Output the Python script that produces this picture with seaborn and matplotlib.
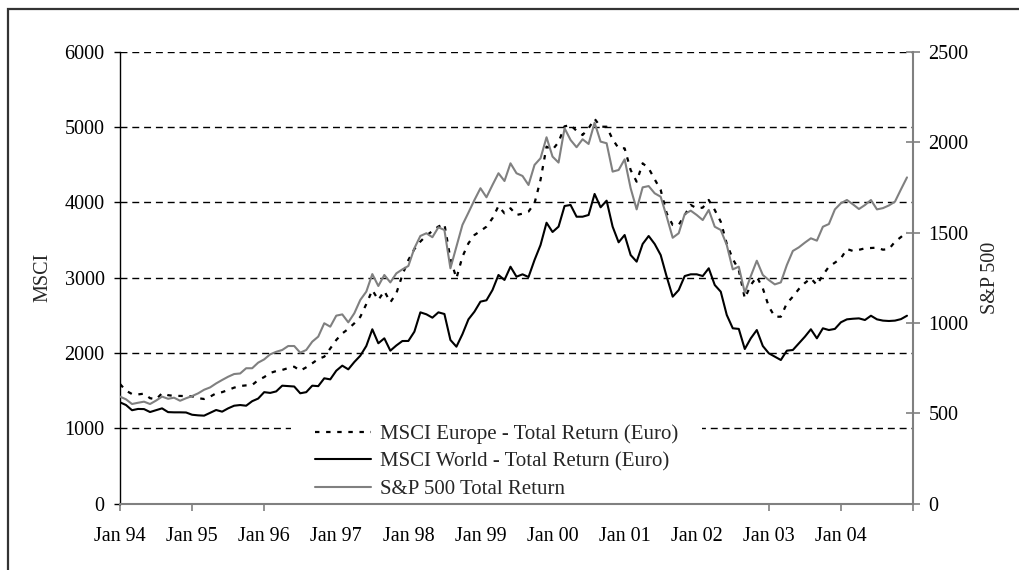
import numpy as np
import matplotlib
matplotlib.use("Agg")
import matplotlib.pyplot as plt
import seaborn as sns
from matplotlib.patches import Rectangle

# monthly index, Jan 94 .. Dec 04
months = np.arange(132)

msci_europe = [
    1588, 1500, 1455, 1450, 1460, 1400, 1385, 1465, 1440, 1430, 1430, 1428,
    1425, 1400, 1389, 1420, 1465, 1480, 1509, 1540, 1562, 1570, 1575, 1640,
    1680, 1735, 1760, 1775, 1800, 1818, 1765, 1810, 1863, 1920, 1951, 2060,
    2173, 2260, 2320, 2394, 2480, 2650, 2836, 2704, 2823, 2673, 2793, 3036,
    3235, 3380, 3480, 3560, 3620, 3680, 3713, 3250, 2992, 3279, 3457, 3567,
    3620, 3678, 3789, 3952, 3855, 3922, 3833, 3850, 3878, 3988, 4300, 4740,
    4700, 4800, 5010, 5028, 4950, 4895, 4984, 5110, 5005, 5005, 4838, 4718,
    4718, 4430, 4275, 4519, 4453, 4307, 4165, 3855, 3700, 3700, 3833, 3966,
    3922, 3930, 4032, 3899, 3744, 3450, 3250, 3102, 2726, 2903, 3013, 2859,
    2615, 2482, 2482, 2660, 2748, 2850, 2930, 2992, 2903, 3036, 3146, 3200,
    3257, 3381, 3355, 3370, 3390, 3395, 3399, 3372, 3380, 3478, 3540, 3611,
]

msci_world = [
    1345, 1309, 1240, 1257, 1255, 1216, 1240, 1265, 1215, 1212, 1212, 1210,
    1180, 1172, 1168, 1205, 1243, 1221, 1265, 1300, 1309, 1300, 1360, 1395,
    1480, 1470, 1490, 1566, 1560, 1555, 1465, 1480, 1566, 1560, 1664, 1650,
    1765, 1832, 1783, 1880, 1964, 2093, 2315, 2129, 2195, 2031, 2100, 2159,
    2160, 2283, 2540, 2514, 2469, 2540, 2518, 2173, 2084, 2250, 2447, 2549,
    2682, 2700, 2836, 3036, 2970, 3146, 3013, 3045, 3009, 3235, 3434, 3730,
    3607, 3678, 3952, 3966, 3810, 3810, 3833, 4112, 3935, 4023, 3678, 3470,
    3567, 3301, 3213, 3448, 3554, 3448, 3301, 3013, 2748, 2836, 3022, 3045,
    3045, 3022, 3125, 2903, 2814, 2505, 2328, 2320, 2053, 2195, 2305, 2093,
    1996, 1951, 1907, 2031, 2040, 2129, 2216, 2315, 2195, 2328, 2305, 2320,
    2408, 2447, 2455, 2460, 2438, 2495, 2447, 2430, 2425, 2430, 2450, 2495,
]

sp500 = [
    592, 577, 551, 558, 564, 551, 570, 592, 580, 586, 569, 583,
    595, 610, 630, 643, 665, 684, 702, 717, 720, 749, 749, 780,
    798, 826, 840, 850, 872, 872, 835, 850, 896, 924, 998, 979,
    1040, 1047, 1003, 1053, 1127, 1173, 1270, 1204, 1265, 1224, 1274, 1296,
    1315, 1413, 1481, 1496, 1474, 1529, 1514, 1302, 1422, 1542, 1610, 1680,
    1745, 1695, 1763, 1828, 1785, 1883, 1828, 1813, 1763, 1874, 1911, 2027,
    1920, 1887, 2077, 2012, 1972, 2016, 1990, 2108, 2003, 1994, 1837, 1846,
    1905, 1745, 1628, 1750, 1757, 1717, 1698, 1588, 1471, 1496, 1602, 1621,
    1597, 1569, 1625, 1532, 1514, 1431, 1296, 1311, 1167, 1259, 1344, 1265,
    1237, 1213, 1224, 1320, 1398, 1418, 1444, 1468, 1455, 1532, 1547, 1628,
    1662, 1680, 1656, 1630, 1652, 1680, 1628, 1635, 1650, 1671, 1739, 1805,
]

year_labels = ["Jan 94", "Jan 95", "Jan 96", "Jan 97", "Jan 98", "Jan 99",
               "Jan 00", "Jan 01", "Jan 02", "Jan 03", "Jan 04", ""]
series_names = ["MSCI Europe - Total Return (Euro)",
                "MSCI World - Total Return (Euro)",
                "S&P 500 Total Return"]

sns.set_theme(style="white")
plt.rcParams["font.family"] = ["Liberation Serif", "DejaVu Serif"]
fs = 14.5

fig = plt.figure(figsize=(10.2, 5.7), dpi=100)
ax = fig.add_axes([120 / 1020, 1 - 503.6 / 570, 793 / 1020, 451.8 / 570])
ax2 = ax.twinx()

sns.lineplot(x=months, y=msci_europe, ax=ax, color="black", lw=1.6,
             linestyle=(0, (2, 3)), legend=False)
sns.lineplot(x=months, y=msci_world, ax=ax, color="black", lw=1.5, legend=False)
sns.lineplot(x=months, y=sp500, ax=ax2, color="#808080", lw=1.5, legend=False)

# left axis
ax.set_ylim(0, 6000)
ax.set_yticks(range(0, 6001, 1000))
ax.set_xlim(0, 132)
ax.set_xticks(range(0, 133, 12))
ax.set_xticklabels(year_labels)
for v in range(1000, 6001, 1000):
    ax.axhline(v, color="black", lw=1, linestyle=(0, (5, 3.5)), zorder=0.5)
ax.grid(False)
ax2.grid(False)

ax2.set_ylim(0, 2500)
ax2.set_yticks(range(0, 2501, 500))

for a in (ax, ax2):
    for s in a.spines.values():
        s.set_visible(False)
ax.spines["left"].set_visible(True)
ax.spines["left"].set_color("black")
ax.spines["left"].set_linewidth(1)
ax.spines["bottom"].set_visible(True)
ax.spines["bottom"].set_color("#808080")
ax.spines["bottom"].set_linewidth(1.5)
ax2.spines["right"].set_visible(True)
ax2.spines["right"].set_color("#808080")
ax2.spines["right"].set_linewidth(1.5)

ax.tick_params(axis="y", direction="out", length=4, width=1, color="black",
               pad=7, labelsize=fs, labelcolor="black", left=True)
ax.tick_params(axis="x", direction="out", length=5, width=1.2, color="#808080",
               pad=12, labelsize=fs, labelcolor="black", bottom=True)
ax2.tick_params(axis="y", direction="inout", length=10, width=1.2, color="#808080",
                pad=6, labelsize=fs, labelcolor="black", right=True)

ax.set_ylabel("MSCI", fontsize=fs, labelpad=9)
ax2.set_ylabel("S&P 500", fontsize=fs, labelpad=9)
ax.set_xlabel("")

# legend sits on the primary axes, under the spines but over the grid
handles = ax.get_lines()[:2] + ax2.get_lines()[:1]
leg = ax.legend(handles, series_names, loc="lower left",
                bbox_to_anchor=(0.238, -0.004), borderaxespad=0,
                fontsize=15, frameon=True, facecolor="white",
                edgecolor="none", framealpha=1, handlelength=2.7,
                handletextpad=0.4, labelspacing=0.38, borderpad=0.3,
                fancybox=False)
leg.get_frame().set_boxstyle("square", pad=0.85)
leg.set_zorder(2.2)

# outer frame of the chart area
fig.add_artist(Rectangle((8 / 1020, -0.05), 1.1, 561 / 570 + 0.05,
                         transform=fig.transFigure, fill=False,
                         lw=1.6, ec="#333333"))

fig.savefig("out.png", dpi=100)
